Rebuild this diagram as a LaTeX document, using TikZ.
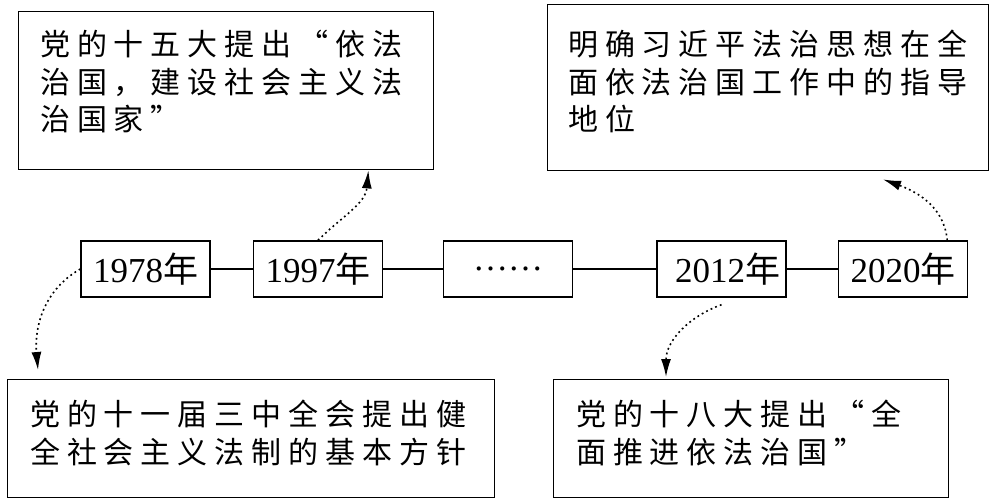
\documentclass[tikz,border=0pt]{standalone}
\usepackage{fontspec}
\setmainfont{Liberation Serif}
\newfontfamily\cjk[LetterSpace=23]{Noto Sans CJK SC}
\newfontfamily\cjky{Noto Sans CJK SC}
\usetikzlibrary{arrows.meta,calc}
\tikzset{
  box/.style={draw, line width=1.4pt, inner sep=0pt, anchor=north west},
  yearbox/.style={draw, line width=1.4pt, minimum width=129pt, minimum height=56pt, inner sep=0pt, font=\fontsize{35}{35}\selectfont},
  txt/.style={font=\cjk\fontsize{30}{37.5}\selectfont, align=left, inner sep=0pt, anchor=north west},
  link/.style={line width=1.6pt, dash pattern=on 1.8pt off 3.2pt, -{Latex[length=18pt,width=10pt]}},
  tie/.style={line width=1.4pt}
}
\begin{document}
\begin{tikzpicture}[x=1pt,y=-1pt]
\useasboundingbox (0,0) rectangle (990,503);
% big boxes
\node[box, minimum width=415pt, minimum height=158pt] (tl) at (18,11) {};
\node[box, minimum width=441pt, minimum height=166pt] (tr) at (547,4) {};
\node[box, minimum width=487pt, minimum height=118pt] (bl) at (7,379) {};
\node[box, minimum width=395pt, minimum height=118pt] (br) at (553,379) {};
% texts
\node[txt] (tlt) at (40,30) {党的十五大提出“依法\\治国，建设社会主义法\\治国家”};
\node[txt] (trt) at (568,30) {明确习近平法治思想在全\\面依法治国工作中的指导\\地位};
\node[txt] (blt) at (30,400) {党的十一届三中全会提出健\\全社会主义法制的基本方针};
\node[txt] (brt) at (576,400) {党的十八大提出“全\\面推进依法治国”};
% year boxes
\node[yearbox] (y1978) at (145.5,269) {1978{\cjky 年}};
\node[yearbox] (y1997) at (318,269) {1997{\cjky 年}};
\node[yearbox] (ydots) at (508,269) {……};
\node[yearbox] (y2012) at (721.5,269) {\hspace*{12pt}2012{\cjky 年}};
\node[yearbox] (y2020) at (903,269) {2020{\cjky 年}};
\draw[tie] (y1978) -- (y1997);
\draw[tie] (y1997) -- (ydots);
\draw[tie] (ydots) -- (y2012);
\draw[tie] (y2012) -- (y2020);
% arrow tips
\coordinate (t1) at ($(bl.north west)+(31,-9)$);
\coordinate (t2) at ($(tl.south east)+(-66,0)$);
\coordinate (t3) at ($(br.north west)+(113,-2)$);
\coordinate (t4) at ($(tr.south west)+(336,8)$);
\coordinate (s3) at ($(y2012.south)+(0,7)$);
\coordinate (s4) at ($(y2020.north east)+(-21,0)$);
\draw[link] (y1978.west) to[out=210,in=95] (t1);
\draw[link] (y1997.north) to[out=45,in=-95] (t2);
\draw[link] (s3) to[out=200,in=90] (t3);
\draw[link] (s4) to[out=95,in=-20] (t4);
\end{tikzpicture}
\end{document}
